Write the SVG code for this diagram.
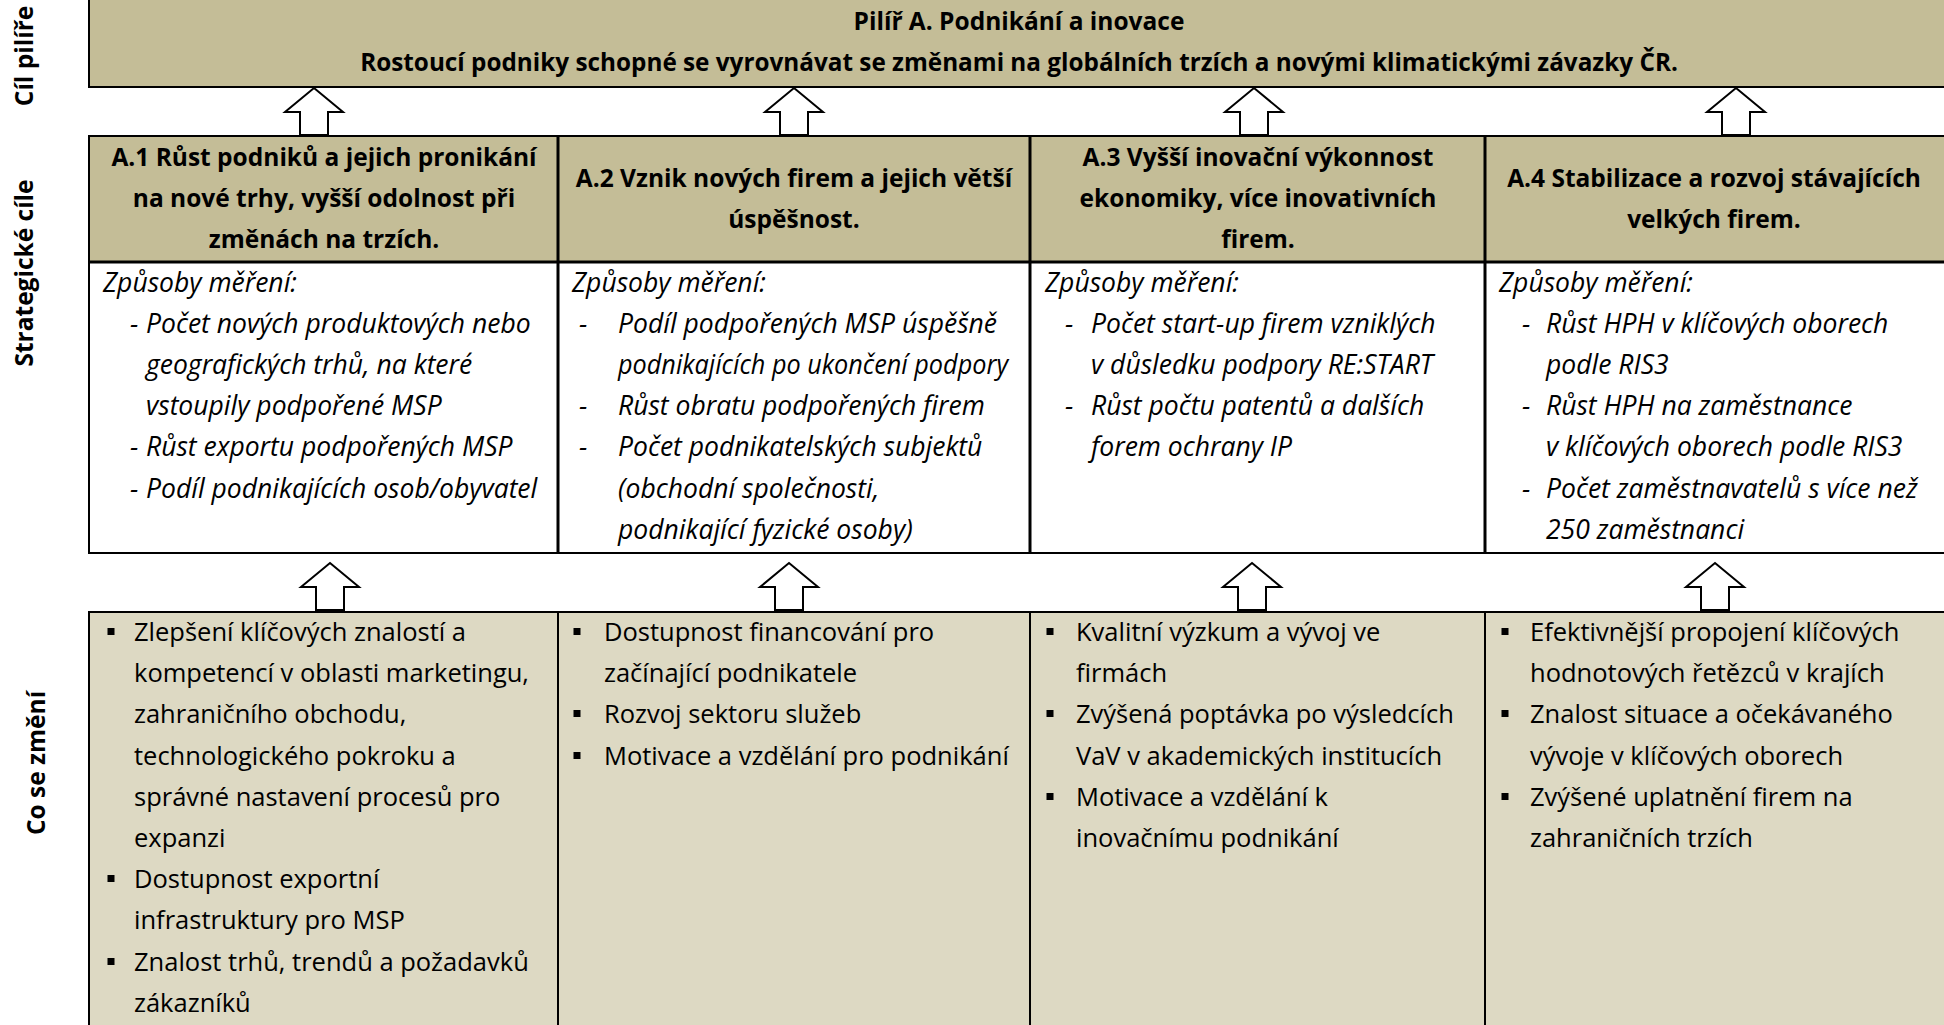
<svg xmlns="http://www.w3.org/2000/svg" width="1944" height="1025" viewBox="0 0 1944 1025">
<style>
text{font-family:"Open Sans","Liberation Sans",sans-serif;fill:#000}
.b{font-weight:700;font-size:24.5px}
.c{text-anchor:middle}
.i{font-style:italic;font-size:26.5px}
.r{font-size:25.5px}
.dark{fill:#C4BD97}
.light{fill:#DDD9C3}
.frame{stroke:#000;stroke-width:2}
.div3{stroke:#000;stroke-width:3}
.div2{stroke:#000;stroke-width:2}
.arrow{fill:#fff;stroke:#000;stroke-width:2;stroke-linejoin:miter}
.sq{fill:#000}
</style>
<defs>
<path id="up" class="arrow" d="M0,0 L29,24 L14,24 L14,47 L-14,47 L-14,24 L-29,24 Z"/>
<rect id="bul" class="sq" x="-3.5" y="-13" width="7" height="7"/>
</defs>
<rect width="1944" height="1025" fill="#fff"/>

<g id="row-labels">
<text class="b c" transform="translate(33,56) rotate(-90)">Cíl pilíře</text>
<text class="b c" transform="translate(33,273) rotate(-90)">Strategické cíle</text>
<text class="b c" transform="translate(45,763) rotate(-90)">Co se změní</text>
</g>

<g id="pillar">
<rect class="dark frame" x="89" y="-5" width="1870" height="92"/>
<text class="b c" x="1019" y="29.5">Pilíř A. Podnikání a inovace</text>
<text class="b c" x="1019" y="70.5" style="font-size:24.3px">Rostoucí podniky schopné se vyrovnávat se změnami na globálních trzích a novými klimatickými závazky ČR.</text>
</g>

<g id="connectors">
<use href="#up" x="314" y="88"/>
<use href="#up" x="794" y="88"/>
<use href="#up" x="1254" y="88"/>
<use href="#up" x="1736" y="88"/>
<use href="#up" x="330" y="563"/>
<use href="#up" x="789" y="563"/>
<use href="#up" x="1252" y="563"/>
<use href="#up" x="1715" y="563"/>
</g>

<g id="strategic-frame">
<rect class="dark" x="89" y="136" width="1870" height="126"/>
<rect fill="#fff" x="89" y="262" width="1870" height="291"/>
<rect fill="none" class="frame" x="89" y="136" width="1870" height="417"/>
<line class="div3" x1="89" y1="262" x2="1950" y2="262"/>
<line class="div3" x1="558" y1="136" x2="558" y2="553"/>
<line class="div3" x1="1030" y1="136" x2="1030" y2="553"/>
<line class="div3" x1="1485" y1="136" x2="1485" y2="553"/>
</g>

<g id="goal-A1">
<text class="b c" x="324" y="165.5">A.1 Růst podniků a jejich pronikání</text>
<text class="b c" x="324" y="206.5">na nové trhy, vyšší odolnost při</text>
<text class="b c" x="324" y="247.5">změnách na trzích.</text>
<text class="i" x="103" y="292">Způsoby měření:</text>
<text class="i" x="130" y="333">-</text>
<text class="i" x="146" y="333">Počet nových produktových nebo</text>
<text class="i" x="146" y="374">geografických trhů, na které</text>
<text class="i" x="146" y="415">vstoupily podpořené MSP</text>
<text class="i" x="130" y="456">-</text>
<text class="i" x="146" y="456">Růst exportu podpořených MSP</text>
<text class="i" x="130" y="498">-</text>
<text class="i" x="146" y="498">Podíl podnikajících osob/obyvatel</text>
</g>

<g id="goal-A2">
<text class="b c" x="794" y="186.5">A.2 Vznik nových firem a jejich větší</text>
<text class="b c" x="794" y="227.5">úspěšnost.</text>
<text class="i" x="572" y="292">Způsoby měření:</text>
<text class="i" x="579" y="333">-</text>
<text class="i" x="618" y="333">Podíl podpořených MSP úspěšně</text>
<text class="i" x="618" y="374" textLength="390" lengthAdjust="spacingAndGlyphs">podnikajících po ukončení podpory</text>
<text class="i" x="579" y="415">-</text>
<text class="i" x="618" y="415">Růst obratu podpořených firem</text>
<text class="i" x="579" y="456">-</text>
<text class="i" x="618" y="456">Počet podnikatelských subjektů</text>
<text class="i" x="618" y="498">(obchodní společnosti,</text>
<text class="i" x="618" y="539">podnikající fyzické osoby)</text>
</g>

<g id="goal-A3">
<text class="b c" x="1258" y="165.5">A.3 Vyšší inovační výkonnost</text>
<text class="b c" x="1258" y="206.5">ekonomiky, více inovativních</text>
<text class="b c" x="1258" y="247.5">firem.</text>
<text class="i" x="1045" y="292">Způsoby měření:</text>
<text class="i" x="1065" y="333">-</text>
<text class="i" x="1091" y="333">Počet start-up firem vzniklých</text>
<text class="i" x="1091" y="374">v důsledku podpory RE:START</text>
<text class="i" x="1065" y="415">-</text>
<text class="i" x="1091" y="415">Růst počtu patentů a dalších</text>
<text class="i" x="1091" y="456">forem ochrany IP</text>
</g>

<g id="goal-A4">
<text class="b c" x="1714" y="186.5">A.4 Stabilizace a rozvoj stávajících</text>
<text class="b c" x="1714" y="227.5">velkých firem.</text>
<text class="i" x="1499" y="292">Způsoby měření:</text>
<text class="i" x="1522" y="333">-</text>
<text class="i" x="1546" y="333">Růst HPH v klíčových oborech</text>
<text class="i" x="1546" y="374">podle RIS3</text>
<text class="i" x="1522" y="415">-</text>
<text class="i" x="1546" y="415">Růst HPH na zaměstnance</text>
<text class="i" x="1546" y="456">v klíčových oborech podle RIS3</text>
<text class="i" x="1522" y="498">-</text>
<text class="i" x="1546" y="498">Počet zaměstnavatelů s více než</text>
<text class="i" x="1546" y="539">250 zaměstnanci</text>
</g>

<g id="changes-frame">
<rect class="light frame" x="89" y="612" width="1870" height="420"/>
<line class="div2" x1="558" y1="612" x2="558" y2="1030"/>
<line class="div2" x1="1030" y1="612" x2="1030" y2="1030"/>
<line class="div2" x1="1485" y1="612" x2="1485" y2="1030"/>
</g>

<g id="change-A1">
<use href="#bul" x="111" y="641"/>
<text class="r" x="134" y="641">Zlepšení klíčových znalostí a</text>
<text class="r" x="134" y="682">kompetencí v oblasti marketingu,</text>
<text class="r" x="134" y="723">zahraničního obchodu,</text>
<text class="r" x="134" y="765">technologického pokroku a</text>
<text class="r" x="134" y="806">správné nastavení procesů pro</text>
<text class="r" x="134" y="847">expanzi</text>
<use href="#bul" x="111" y="888"/>
<text class="r" x="134" y="888">Dostupnost exportní</text>
<text class="r" x="134" y="929">infrastruktury pro MSP</text>
<use href="#bul" x="111" y="971"/>
<text class="r" x="134" y="971">Znalost trhů, trendů a požadavků</text>
<text class="r" x="134" y="1012">zákazníků</text>
</g>

<g id="change-A2">
<use href="#bul" x="577" y="641"/>
<text class="r" x="604" y="641">Dostupnost financování pro</text>
<text class="r" x="604" y="682">začínající podnikatele</text>
<use href="#bul" x="577" y="723"/>
<text class="r" x="604" y="723">Rozvoj sektoru služeb</text>
<use href="#bul" x="577" y="765"/>
<text class="r" x="604" y="765">Motivace a vzdělání pro podnikání</text>
</g>

<g id="change-A3">
<use href="#bul" x="1050" y="641"/>
<text class="r" x="1076" y="641">Kvalitní výzkum a vývoj ve</text>
<text class="r" x="1076" y="682">firmách</text>
<use href="#bul" x="1050" y="723"/>
<text class="r" x="1076" y="723">Zvýšená poptávka po výsledcích</text>
<text class="r" x="1076" y="765">VaV v akademických institucích</text>
<use href="#bul" x="1050" y="806"/>
<text class="r" x="1076" y="806">Motivace a vzdělání k</text>
<text class="r" x="1076" y="847">inovačnímu podnikání</text>
</g>

<g id="change-A4">
<use href="#bul" x="1505" y="641"/>
<text class="r" x="1530" y="641">Efektivnější propojení klíčových</text>
<text class="r" x="1530" y="682">hodnotových řetězců v krajích</text>
<use href="#bul" x="1505" y="723"/>
<text class="r" x="1530" y="723">Znalost situace a očekávaného</text>
<text class="r" x="1530" y="765">vývoje v klíčových oborech</text>
<use href="#bul" x="1505" y="806"/>
<text class="r" x="1530" y="806">Zvýšené uplatnění firem na</text>
<text class="r" x="1530" y="847">zahraničních trzích</text>
</g>
</svg>
